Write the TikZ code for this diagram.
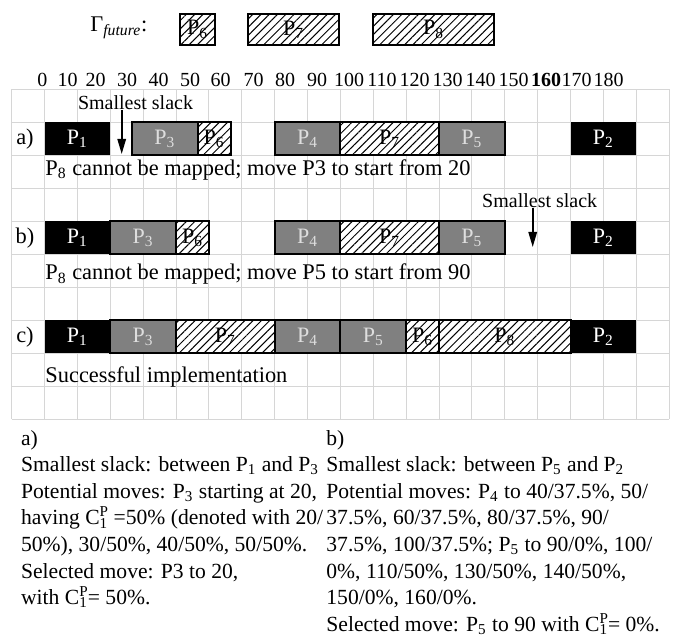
\documentclass[tikz,border=0pt]{standalone}
\usepackage{fontspec}
\setmainfont{Liberation Serif}
\usetikzlibrary{arrows.meta}
\usetikzlibrary{patterns.meta}
\usepackage{xcolor}

\definecolor{gridgray}{RGB}{214,214,214}
\definecolor{taskgray}{RGB}{128,128,128}
\definecolor{labelgray}{RGB}{222,222,222}

\newcommand{\Pn}[1]{P\textsubscript{#1}}
\newcommand{\Cp}{C\rlap{\textsuperscript{P}}\textsubscript{1}}

\tikzset{
  gridline/.style={gridgray, line width=0.5pt},
  task/.style={anchor=west, minimum height=16.5pt, inner sep=0pt, outer sep=0pt, font=\fontsize{11}{13}\selectfont},
  busy/.style={fill=black, text=white},
  moved/.style={fill=taskgray, draw=black, line width=1pt, text=labelgray},
  future/.style={draw=black, line width=1pt, preaction={fill=white},
    pattern={Lines[angle=45, distance=2.93pt, line width=0.5pt]}},
  smalltext/.style={anchor=base, inner sep=0pt, font=\fontsize{10}{12}\selectfont},
  note/.style={anchor=base west, inner sep=0pt},
  explain/.style={note, font=\fontsize{10.8}{13}\selectfont},
  slackarrow/.style={-{Triangle[width=4.2pt, length=7.5pt]}, line width=0.85pt},
}

\begin{document}
\begin{tikzpicture}[x=0.5pt, y=-0.5pt, font=\fontsize{11.2}{13.4}\selectfont]
    \useasboundingbox (0,0) rectangle (678,640);

    % Time grid
    \foreach \k in {0,...,20}
        \draw[gridline] ({11.7+32.87*\k}, 89.3) -- ({11.7+32.87*\k}, 419);
    \foreach \j in {0,...,10}
        \draw[gridline] (11.7, {89.3+32.97*\j}) -- (669.1, {89.3+32.97*\j});

    % Future tasks
    \node[anchor=west, inner sep=0pt] (gamma) at (90, 28) {Γ\textsubscript{\textit{future}}:};
    \node[future, minimum width=14.6pt, minimum height=13.6pt, font=\fontsize{11}{13}\selectfont] (f6) at (197.5, 29.5) {\Pn6};
    \node[future, minimum width=45.3pt, minimum height=13.6pt, font=\fontsize{11}{13}\selectfont] (f7) at (293.5, 29.5) {\Pn7};
    \node[future, minimum width=60.8pt, minimum height=13.6pt, font=\fontsize{11}{13}\selectfont] (f8) at (433.5, 29.5) {\Pn8};

    % Time axis
    \foreach \t/\xx in {0/42.3, 10/67.5, 20/95.5, 30/127, 40/158.5, 50/190, 60/220.5, 70/253.5, 80/285, 90/317, 100/349, 110/382, 120/414.5, 130/447.5, 140/480.5, 150/513.5, 170/576.5, 180/608.5}
        \node[smalltext] (t\t) at (\xx, 86.5) {\t};
    \node[smalltext] (t160) at (546, 86.5) {\textbf{160}};

    % Schedules
    \begin{scope}[shift={(44.57,0)}, x=1.6435pt]
        \foreach \s/\e/\n/\st in {0/20/1/busy, 26.6/46.6/3/moved, 46.6/56.6/6/future, 70/90/4/moved, 90/120/7/future, 120/140/5/moved, 160/180/2/busy}
            \node[task, \st, minimum width={(\e-\s)*1.6435pt}] (a\n) at (\s, 138.8) {\Pn{\n}};
        \foreach \s/\e/\n/\st in {0/20/1/busy, 20/40/3/moved, 40/50/6/future, 70/90/4/moved, 90/120/7/future, 120/140/5/moved, 160/180/2/busy}
            \node[task, \st, minimum width={(\e-\s)*1.6435pt}] (b\n) at (\s, 237.7) {\Pn{\n}};
        \foreach \s/\e/\n/\st in {0/20/1/busy, 20/40/3/moved, 40/70/7/future, 70/90/4/moved, 90/110/5/moved, 110/120/6/future, 120/160/8/future, 160/180/2/busy}
            \node[task, \st, minimum width={(\e-\s)*1.6435pt}] (c\n) at (\s, 336.6) {\Pn{\n}};
    \end{scope}

    \node[anchor=base] (rowa) at (25, 145) {a)};
    \node[anchor=base] (rowb) at (25, 244) {b)};
    \node[anchor=base] (rowc) at (25, 343) {c)};

    % Smallest slack markers
    \node[smalltext] (slacka) at (135.5, 110) {Smallest slack};
    \coordinate (gapa) at (121.7, 154);
    \draw[slackarrow] (slacka.base -| gapa) -- (gapa);
    \node[smalltext] (slackb) at (539.7, 208) {Smallest slack};
    \coordinate (gapb) at (532.7, 247);
    \draw[slackarrow] (slackb.base -| gapb) -- (gapb);

    \node[note] (notea) at (45, 175.5) {\Pn8 cannot be mapped; move P3 to start from 20};
    \node[note] (noteb) at (45, 280) {\Pn8 cannot be mapped; move P5 to start from 90};
    \node[note] (notec) at (45, 382) {Successful implementation};

    % Explanations
    \foreach \l [count=\i] in {{a)}, {Smallest slack: between \Pn1 and \Pn3}, {Potential moves: \Pn3 starting at 20,}, {having \Cp{} =50\% (denoted with 20/}, {50\%), 30/50\%, 40/50\%, 50/50\%.}, {Selected move: P3 to 20,}, {with \Cp= 50\%.}}
        \node[explain] (left\i) at (20.7, {445+26.6*(\i-1)}) {\l};
    \foreach \l [count=\i] in {{b)}, {Smallest slack: between \Pn5 and \Pn2}, {Potential moves: \Pn4 to 40/37.5\%, 50/}, {37.5\%, 60/37.5\%, 80/37.5\%, 90/}, {37.5\%, 100/37.5\%; \Pn5 to 90/0\%, 100/}, {0\%, 110/50\%, 130/50\%, 140/50\%,}, {150/0\%, 160/0\%.}, {Selected move: \Pn5 to 90 with \Cp= 0\%.}}
        \node[explain] (right\i) at (326, {445+26.6*(\i-1)}) {\l};
\end{tikzpicture}
\end{document}
